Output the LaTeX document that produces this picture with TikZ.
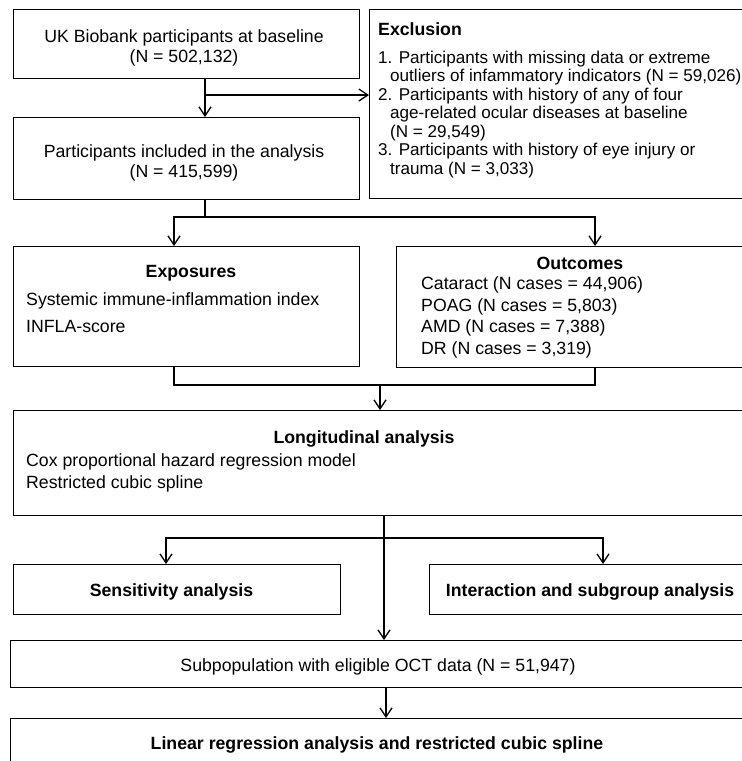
\documentclass[tikz,border=0pt]{standalone}
\usepackage{fontspec}
\setmainfont{Liberation Sans}
\usetikzlibrary{arrows.meta}
\begin{document}
\begin{tikzpicture}[x=1pt,y=-1pt,
  box/.style={draw, line width=1.4pt, inner sep=0pt, anchor=north west},
  conn/.style={line width=1.3pt},
  arr/.style={line width=1.3pt, -{Straight Barb[length=9pt,width=12pt,line width=1.3pt]}},
  txt/.style={font=\fontsize{17.7}{20}\selectfont, inner sep=0pt, anchor=base},
  txtl/.style={txt, anchor=base west},
  extxt/.style={txtl, font=\fontsize{17.1}{20}\selectfont},
  bold/.style={txt, font=\fontsize{17.7}{20}\selectfont\bfseries}]
\path[use as bounding box, fill=white] (0,0) rectangle (742,761);
\clip (0,0) rectangle (742,761);

% boxes
\node[box, minimum width=346pt, minimum height=69pt]  (ukb)   at (13,9)    {};
\node[box, minimum width=346pt, minimum height=82pt]  (incl)  at (13,117)  {};
\node[box, minimum width=379pt, minimum height=189pt] (excl)  at (369,9)   {};
\node[box, minimum width=346pt, minimum height=120pt] (expo)  at (13,246)  {};
\node[box, minimum width=352pt, minimum height=121pt] (outc)  at (396,246) {};
\node[box, minimum width=735pt, minimum height=105pt] (long)  at (13,410)  {};
\node[box, minimum width=327pt, minimum height=50pt]  (sens)  at (13,564)  {};
\node[box, minimum width=319pt, minimum height=50pt]  (inter) at (429,564) {};
\node[box, minimum width=738pt, minimum height=47pt]  (sub)   at (10,640)  {};
\node[box, minimum width=738pt, minimum height=60pt]  (lin)   at (10,718)  {};

% texts
\node[txt] (t1a) at (184,42) {UK Biobank participants at baseline};
\node[txt] (t1b) at (184,62) {(N = 502,132)};
\node[txt] (t2a) at (184,157) {Participants included in the analysis};
\node[txt] (t2b) at (184,177) {(N = 415,599)};

\node[bold, anchor=base west] (e0) at (378,35) {Exclusion};
\node[extxt] (e1) at (378,63)    {1. Participants with missing data or extreme};
\node[extxt] (e2) at (390,81.5)  {outliers of infammatory indicators (N = 59,026)};
\node[extxt] (e3) at (378,100)   {2. Participants with history of any of four};
\node[extxt] (e4) at (390,118.5) {age-related ocular diseases at baseline};
\node[extxt] (e5) at (390,137)   {(N = 29,549)};
\node[extxt] (e6) at (378,155.5) {3. Participants with history of eye injury or};
\node[extxt] (e7) at (390,174)   {trauma (N = 3,033)};

\node[bold] (x0) at (191,277) {Exposures};
\node[txtl] (x1) at (26,305) {Systemic immune-inflammation index};
\node[txtl] (x2) at (26,332) {INFLA-score};

\node[bold] (o0) at (580,269) {Outcomes};
\node[txtl] (o1) at (421,289.5) {Cataract (N cases = 44,906)};
\node[txtl] (o2) at (421,311)   {POAG (N cases = 5,803)};
\node[txtl] (o3) at (421,332.5) {AMD (N cases = 7,388)};
\node[txtl] (o4) at (421,354)   {DR (N cases = 3,319)};

\node[bold] (l0) at (364,443) {Longitudinal analysis};
\node[txtl] (l1) at (26,466) {Cox proportional hazard regression model};
\node[txtl] (l2) at (26,488) {Restricted cubic spline};

\node[bold] (s0) at (171.5,596) {Sensitivity analysis};
\node[bold] (i0) at (590,596) {Interaction and subgroup analysis};
\node[txt]  (p0) at (378,671) {Subpopulation with eligible OCT data (N = 51,947)};
\node[bold] (r0) at (377,749) {Linear regression analysis and restricted cubic spline};

% connectors
\coordinate (a1) at (205,95);
\draw[arr] (ukb.south -| a1) -- (incl.north -| a1);
\draw[arr] (a1) -- (a1 -| excl.west);

\coordinate (j1)  at (205,217);
\coordinate (j1l) at (174,217);
\coordinate (j1r) at (595,217);
\draw[conn] (incl.south -| j1) -- (j1);
\draw[arr] (j1) -- (j1l) -- (expo.north -| j1l);
\draw[arr] (j1) -- (j1r) -- (outc.north -| j1r);

\coordinate (j2)  at (380,385);
\coordinate (j2l) at (174,385);
\coordinate (j2r) at (595,385);
\draw[conn] (expo.south -| j2l) -- (j2l) -- (j2r) -- (outc.south -| j2r);
\draw[arr] (j2) -- (long.north -| j2);

\coordinate (j3)  at (384,538);
\coordinate (j3l) at (166,538);
\coordinate (j3r) at (603,538);
\draw[arr] (long.south -| j3) -- (sub.north -| j3);
\draw[arr] (j3) -- (j3l) -- (sens.north -| j3l);
\draw[arr] (j3) -- (j3r) -- (inter.north -| j3r);

\coordinate (j4) at (386,700);
\draw[arr] (sub.south -| j4) -- (lin.north -| j4);
\end{tikzpicture}
\end{document}
